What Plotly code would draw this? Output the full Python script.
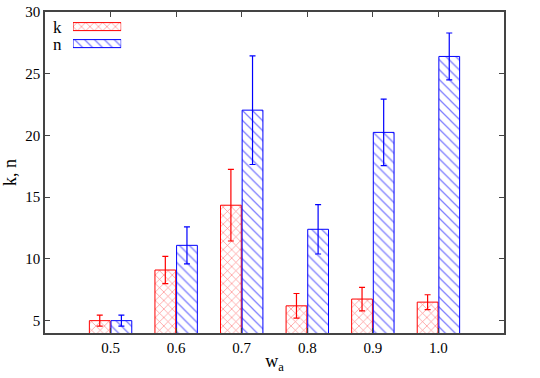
import plotly.graph_objects as go

categories = ["0.5", "0.6", "0.7", "0.8", "0.9", "1.0"]
k_values = [5.0, 9.1, 14.35, 6.2, 6.75, 6.5]
k_errors = [0.45, 1.1, 2.9, 1.0, 0.95, 0.6]
n_values = [5.0, 11.1, 22.05, 12.4, 20.25, 26.4]
n_errors = [0.45, 1.5, 4.4, 2.0, 2.7, 1.9]
series_names = ["k", "n"]
y_ticks = [5, 10, 15, 20, 25, 30]

RED = "rgb(255,0,0)"
BLUE = "rgb(0,0,255)"
FONT = "Liberation Serif"

fig = go.Figure()

fig.add_trace(go.Bar(
    x=categories, y=k_values, name=series_names[0],
    marker=dict(color="white", line=dict(color=RED, width=1),
                pattern=dict(shape="x", fgcolor=RED, bgcolor="white", size=6, solidity=0.2, fillmode="overlay")),
    error_y=dict(type="data", array=k_errors, color=RED, thickness=1.2, width=3),
    showlegend=False,
))
fig.add_trace(go.Bar(
    x=categories, y=n_values, name=series_names[1],
    marker=dict(color="white", line=dict(color=BLUE, width=1),
                pattern=dict(shape="\\", fgcolor=BLUE, bgcolor="white", size=7, solidity=0.18, fillmode="overlay")),
    error_y=dict(type="data", array=n_errors, color=BLUE, thickness=1.2, width=3),
    showlegend=False,
))

# legend swatches drawn in a small inset axis
fig.add_trace(go.Bar(
    x=[1], y=[series_names[0]], orientation="h", xaxis="x2", yaxis="y2", width=0.47,
    marker=dict(color="white", line=dict(color=RED, width=1),
                pattern=dict(shape="x", fgcolor=RED, bgcolor="white", size=6, solidity=0.2, fillmode="overlay")),
    showlegend=False, hoverinfo="skip",
))
fig.add_trace(go.Bar(
    x=[1], y=[series_names[1]], orientation="h", xaxis="x2", yaxis="y2", width=0.47,
    marker=dict(color="white", line=dict(color=BLUE, width=1),
                pattern=dict(shape="\\", fgcolor=BLUE, bgcolor="white", size=7, solidity=0.18, fillmode="overlay")),
    showlegend=False, hoverinfo="skip",
))

axis_line = dict(showline=True, linecolor="#444", linewidth=1.5, mirror="ticks",
                 ticks="inside", ticklen=5, tickcolor="#444", showgrid=False, zeroline=False,
                 automargin=False, ticklabeloverflow="allow",
                 tickfont=dict(family=FONT, size=15, color="black"))

fig.update_layout(
    width=540, height=378,
    margin=dict(l=45, r=36, t=12, b=45, autoexpand=False),
    paper_bgcolor="white", plot_bgcolor="white",
    font=dict(family=FONT, size=15, color="black"),
    barmode="group", bargap=0.34, bargroupgap=0.04,
    xaxis=dict(type="category", range=[-1, 6],
               title=dict(text="w<sub>a</sub>", standoff=0, font=dict(family=FONT, size=18)), **axis_line),
    yaxis=dict(range=[4, 30], tickvals=y_ticks,
               title=dict(text="k, n", standoff=9, font=dict(family=FONT, size=18)), **axis_line),
    xaxis2=dict(domain=[0.061, 0.166], anchor="y2", range=[0, 1], visible=False),
    yaxis2=dict(domain=[0.875, 0.981], anchor="x2", type="category",
                categoryorder="array", categoryarray=[series_names[1], series_names[0]],
                range=[-0.5, 1.5], visible=False),
    annotations=[
        dict(text=series_names[0], x=0.027, y=0.953, xref="paper", yref="paper", showarrow=False,
             xanchor="center", yanchor="middle", font=dict(family=FONT, size=17)),
        dict(text=series_names[1], x=0.027, y=0.900, xref="paper", yref="paper", showarrow=False,
             xanchor="center", yanchor="middle", font=dict(family=FONT, size=17)),
    ],
)

# remove the browser's default 8px body margin so the figure sits at the window origin
fig.write_html("out.html", config={"displayModeBar": False},
               post_script="document.body.style.margin='0';")
